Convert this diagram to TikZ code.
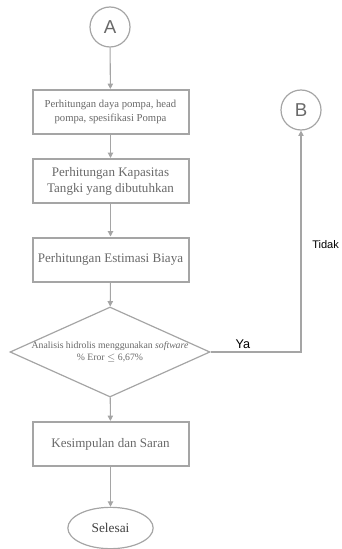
\documentclass[tikz,border=0pt]{standalone}
\usepackage{amssymb,amsmath}
\usepackage{fontspec}
\setmainfont{Liberation Serif}
\newfontfamily\labelfont{Liberation Sans}
\usepackage{tikz}
\usetikzlibrary{%
  arrows.meta,%
  shapes.geometric%
}
\definecolor{garis}{RGB}{165,165,165}
\definecolor{teks}{RGB}{105,105,105}

\begin{document}
\begin{tikzpicture}[x=0.75pt,y=-0.75pt,
    panah/.style={draw=garis,line width=0.8pt,-{Triangle[width=4pt,length=4pt]}},
    proses/.style={draw=garis,line width=1.5pt,rectangle,minimum width=117pt,
      minimum height=33pt,align=center,text=teks,font=\fontsize{9.8}{12}\selectfont},
    konektor/.style={draw=garis,line width=0.9pt,circle,minimum size=30pt,inner sep=0pt,
      text=teks,font=\labelfont\fontsize{14}{14}\selectfont}]
  \useasboundingbox (0,0) rectangle (342,549);
  \node[konektor] (a) at (110,27) {A};
  \node[konektor] (b) at (301,110) {B};
  \node[proses,font=\fontsize{8}{10}\selectfont] (daya) at (110.5,112)
    {Perhitungan daya pompa, head\\pompa, spesifikasi Pompa};
  \node[proses] (tangki) at (110.5,181) {Perhitungan Kapasitas\\Tangki yang dibutuhkan};
  \node[proses] (biaya) at (110.5,259.5) {Perhitungan Estimasi Biaya};
  \node[diamond,draw=garis,line width=0.9pt,minimum width=150pt,minimum height=67.5pt,
    inner sep=0pt] (cek) at (110,352) {};
  \node[text=teks,align=center,font=\fontsize{7.3}{9}\selectfont] (cektxt) at (cek.center)
    {Analisis hidrolis menggunakan \textit{software}\\\% Eror $\leq$ 6,67\%};
  \node[proses] (simpul) at (110.5,444) {Kesimpulan dan Saran};
  \node[ellipse,draw=garis,line width=0.9pt,minimum width=64pt,minimum height=31pt,
    inner sep=0pt,text=black!75,font=\fontsize{10}{11}\selectfont] (selesai) at (110.5,528) {Selesai};

  \draw[panah] (a) -- (daya);
  \draw[panah] (daya) -- (tangki);
  \draw[panah] (tangki) -- (biaya);
  \draw[panah] (biaya) -- (cek);
  \draw[panah] (cek) -- (simpul);
  \draw[panah] (simpul) -- (selesai);
  \draw[panah] (cek.east) -| (b.south);
  \node[font=\labelfont\fontsize{9.5}{10}\selectfont] (ya) at (243,344) {Ya};
  \node[anchor=west,font=\labelfont\fontsize{8.3}{10}\selectfont,inner sep=0pt] (tidak) at (312,245) {Tidak};
\end{tikzpicture}
\end{document}
